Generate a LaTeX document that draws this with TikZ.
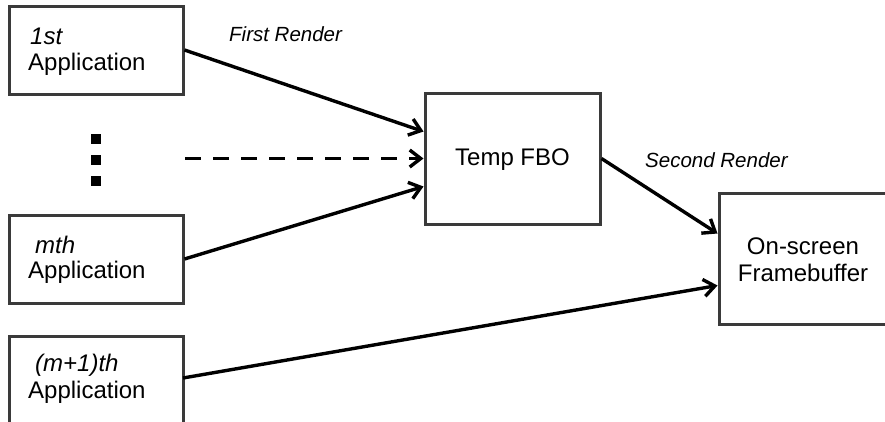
\documentclass[tikz,border=0pt]{standalone}
\usepackage{fontspec}
\setmainfont{Liberation Sans}
\usetikzlibrary{arrows.meta}
\definecolor{boxgray}{HTML}{3A3A3A}
\begin{document}
\begin{tikzpicture}[x=1pt,y=-1pt,
  box/.style={draw=boxgray, line width=3pt, fill=white, inner sep=0pt},
  boxtext/.style={font=\fontsize{24}{28}\selectfont, inner sep=0pt, anchor=west},
  midtext/.style={font=\fontsize{24}{28}\selectfont, inner sep=0pt, align=center},
  lbl/.style={font=\fontsize{20.5}{24}\selectfont\itshape, inner sep=0pt, anchor=west},
  conn/.style={line width=3.4pt, -{Straight Barb[length=11pt,width=17pt,line width=3.4pt]}},
  dotsq/.style={fill=black, minimum size=10pt, inner sep=0pt}]
\useasboundingbox (0,0) rectangle (885,421);
\clip (0,0) rectangle (885,421);

% application boxes
\node[box, minimum width=174pt, minimum height=88pt] (app1) at (96,50) {};
\node[boxtext] (t1a) at (30,36) {\itshape 1st};
\node[boxtext] (t1b) at (28,64) {Application};

\node[box, minimum width=174pt, minimum height=88pt] (appm) at (96,259) {};
\node[boxtext] (tma) at (35,245) {\itshape mth};
\node[boxtext] (tmb) at (28,272) {Application};

\node[box, minimum width=174pt, minimum height=110pt] (appn) at (96,391) {};
\node[boxtext] (tna) at (35,365) {\itshape (m+1)th};
\node[boxtext] (tnb) at (28,392) {Application};

% vertical ellipsis between applications
\node[dotsq] (d1) at (96,139) {};
\node[dotsq] (d2) at (96,160) {};
\node[dotsq] (d3) at (96,181) {};

% render targets
\node[box, minimum width=175pt, minimum height=131pt] (fbo) at (512.5,158.5) {};
\node[midtext] (tfbo) at (512.5,160) {Temp FBO};

\node[box, minimum width=176pt, minimum height=131pt] (fb) at (807,258.5) {};
\node[midtext] (tfb) at (803,260) {On-screen\\[-1pt]Framebuffer};

% connectors
\coordinate (dstart) at (185,158.5);
\coordinate (nstart) at (183,378);
\draw[conn] (app1.east) -- ([yshift=27pt]fbo.west);
\draw[conn, dash pattern=on 16pt off 12pt] (dstart) -- (fbo.west);
\draw[conn] (appm.east) -- ([yshift=-28pt]fbo.west);
\draw[conn] (fbo.east) -- ([yshift=25pt]fb.west);
\draw[conn] (nstart) -- ([yshift=-27pt]fb.west);

% labels
\node[lbl] (l1) at (229,34) {First Render};
\node[lbl] (l2) at (645,160) {Second Render};
\end{tikzpicture}
\end{document}
